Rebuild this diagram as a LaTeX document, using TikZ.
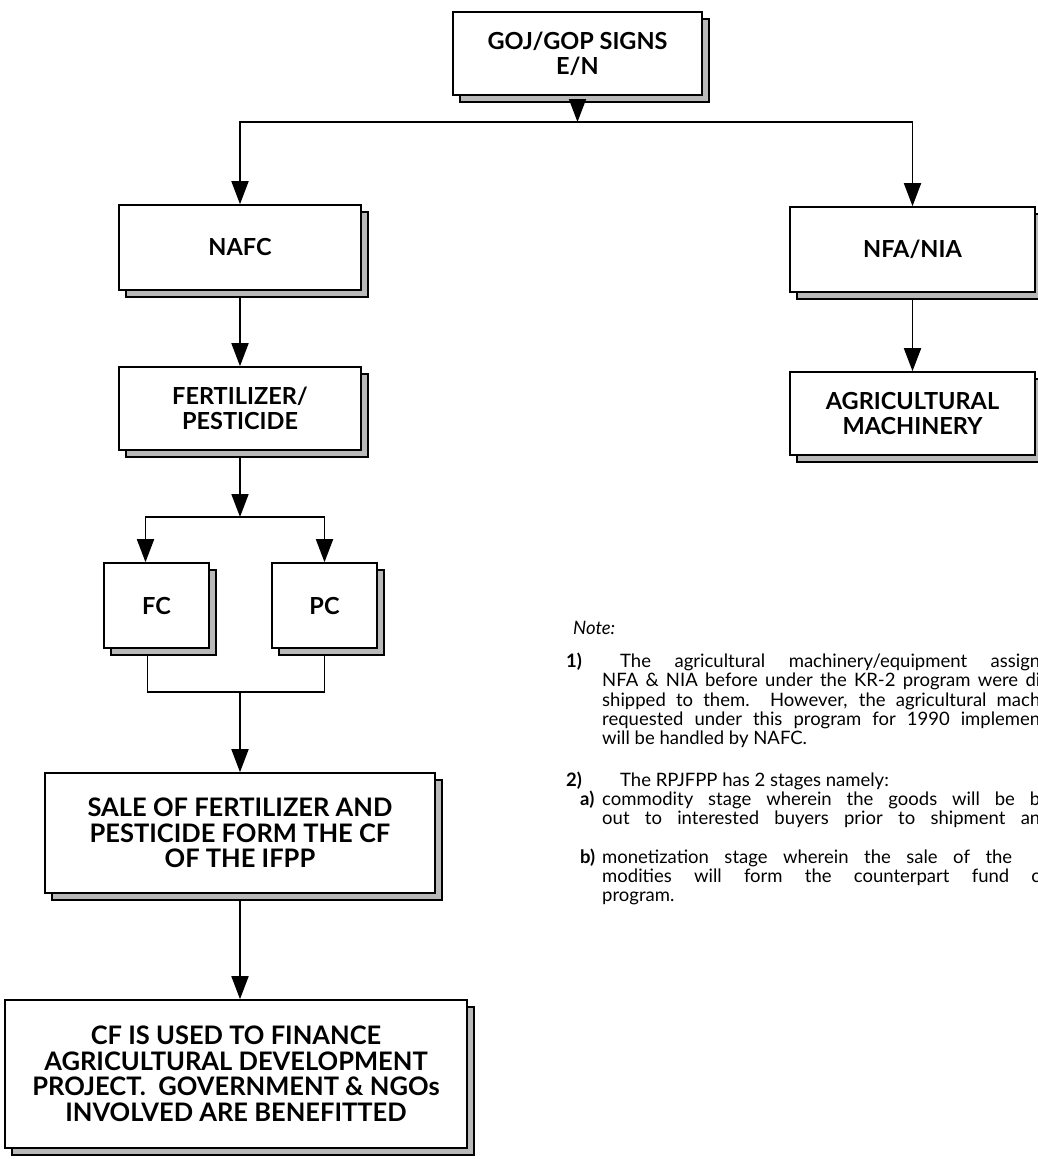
\documentclass[tikz,border=0pt]{standalone}
\usepackage{fontspec}
\setmainfont{Lato}
\usetikzlibrary{arrows.meta,shadows}
\begin{document}
\begin{tikzpicture}[x=1pt,y=-1pt,
  box/.style={draw=black, line width=1.6pt, fill=white, align=center, inner sep=0pt,
    font=\fontsize{23.5}{25}\selectfont\bfseries,
    copy shadow={shadow xshift=7pt, shadow yshift=-7pt, fill=gray!55, draw=black, line width=1.4pt}},
  bigbox/.style={box, font=\fontsize{25.5}{25.5}\selectfont\bfseries},
  conn/.style={line width=1.8pt},
  arr/.style={conn, -{Triangle[width=17pt,length=23pt]}},
  note/.style={anchor=base west, inner sep=0pt, font=\fontsize{18.5}{19.5}\selectfont}]
\clip (0,0) rectangle (1038,1159);
\fill[white] (0,0) rectangle (1038,1159);
% boxes
\node[box, minimum width=249pt, minimum height=83pt] (top) at (577.5,53.5) {GOJ/GOP SIGNS\\E/N};
\node[box, minimum width=242pt, minimum height=85pt] (nafc) at (240,247.5) {NAFC};
\node[box, minimum width=245pt, minimum height=85pt] (nfa) at (912.5,249.5) {NFA/NIA};
\node[box, minimum width=245pt, minimum height=83pt] (agr) at (912.5,413.5) {AGRICULTURAL\\MACHINERY};
\node[box, minimum width=242pt, minimum height=83pt] (fert) at (240,408.5) {FERTILIZER/\\PESTICIDE};
\node[box, minimum width=105pt, minimum height=85pt] (fc) at (156.5,605.5) {FC};
\node[box, minimum width=105pt, minimum height=85pt] (pc) at (324.5,605.5) {PC};
\node[bigbox, minimum width=390pt, minimum height=120pt] (sale) at (240,833) {SALE OF FERTILIZER AND\\PESTICIDE FORM THE CF\\OF THE IFPP};
\node[bigbox, minimum width=462pt, minimum height=148pt] (cf) at (236,1074) {CF IS USED TO FINANCE\\AGRICULTURAL DEVELOPMENT\\PROJECT.\ \ GOVERNMENT \& NGOs\\INVOLVED ARE BENEFITTED};
% junctions
\coordinate (j1) at (577.5,122);
\coordinate (j2) at (240,517);
\coordinate (j3) at (240,692);
% connectors
\draw[arr] ([yshift=-7pt]top.south) -- (j1);
\draw[arr] (j1) -| (nafc.north);
\draw[arr] (j1) -| (nfa.north);
\draw[arr] ([yshift=-7pt]nfa.south) -- (agr.north);
\draw[arr] ([yshift=-7pt]nafc.south) -- (fert.north);
\draw[arr] ([yshift=-7pt]fert.south) -- (j2);
\draw[arr] (j2) -| ([xshift=-11pt]fc.north);
\draw[arr] (j2) -| (pc.north);
\draw[conn] ([xshift=-9pt,yshift=-7pt]fc.south) |- (j3);
\draw[conn] ([yshift=-7pt]pc.south) |- (j3);
\draw[arr] (j3) -- (sale.north);
\draw[arr] ([yshift=-7pt]sale.south) -- (sale.south |- cf.north);
% note
\node[note, font=\fontsize{18.5}{19.5}\selectfont\itshape] (notehd) at (573,634) {Note:};
\node[note] (n1num) at (566,667) {\textbf{1)}};
\node[note] (n1a) at (620,667) {\makebox[420pt][s]{The agricultural machinery/equipment assign}};
\node[note] (n1b) at (602,686) {\makebox[438pt][s]{NFA \& NIA before under the KR-2 program were di}};
\node[note] (n1c) at (602,706) {\makebox[438pt][s]{shipped to them.\ \ However, the agricultural mach}};
\node[note] (n1d) at (602,725) {\makebox[438pt][s]{requested under this program for 1990 implemen}};
\node[note] (n1e) at (602,744) {will be handled by NAFC.};
\node[note] (n2num) at (566,786) {\textbf{2)}};
\node[note] (n2a) at (620,786) {The RPJFPP has 2 stages namely:};
\node[note] (n2anum) at (580,805) {\textbf{a)}};
\node[note] (n2a1) at (602,805) {\makebox[438pt][s]{commodity stage wherein the goods will be b}};
\node[note] (n2a2) at (602,824) {\makebox[438pt][s]{out to interested buyers prior to shipment an}};
\node[note] (n2bnum) at (580,863) {\textbf{b)}};
\node[note] (n2b1) at (602,863) {\makebox[410pt][s]{monetization stage wherein the sale of the}};
\node[note] (n2b2) at (602,882) {\makebox[438pt][s]{modities will form the counterpart fund c}};
\node[note] (n2b3) at (602,901) {program.};
\end{tikzpicture}
\end{document}
